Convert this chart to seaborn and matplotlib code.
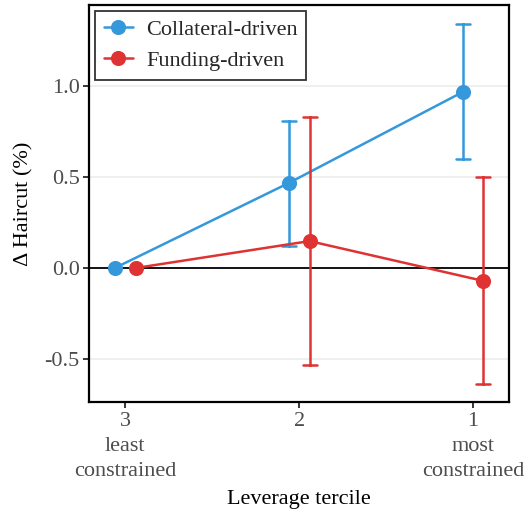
import numpy as np
import pandas as pd
import matplotlib
matplotlib.use("Agg")
import matplotlib.pyplot as plt
import seaborn as sns

# Leverage terciles (3 = least constrained, 1 = most constrained)
terciles = ["3", "2", "1"]
tick_labels = ["3\nleast\nconstrained", "2", "1\nmost\nconstrained"]

series = ["Collateral-driven", "Funding-driven"]
colors = ["#3498DB", "#DF3232"]

# Point estimates of the change in haircut (%)
collateral_est = [0.0, 0.467, 0.967]
funding_est = [0.0, 0.148, -0.071]

# Confidence bounds (tercile 3 is the reference group, no interval)
collateral_lo = [None, 0.121, 0.599]
collateral_hi = [None, 0.808, 1.340]
funding_lo = [None, -0.533, -0.637]
funding_hi = [None, 0.830, 0.500]

rows = []
for name, est, lo, hi in [
    (series[0], collateral_est, collateral_lo, collateral_hi),
    (series[1], funding_est, funding_lo, funding_hi),
]:
    for t, e, l, h in zip(terciles, est, lo, hi):
        vals = [e] if l is None else [l, e, h]
        for v in vals:
            rows.append({"tercile": t, "series": name, "value": v})
df = pd.DataFrame(rows)


def interval(v):
    v = np.asarray(v)
    if len(v) < 3:
        return (np.nan, np.nan)
    return (v.min(), v.max())


sns.set_theme(style="white")
plt.rcParams["font.family"] = ["Liberation Serif", "DejaVu Serif"]

fig, ax = plt.subplots(figsize=(5.28, 5.12), dpi=100)
fig.subplots_adjust(left=0.169, right=0.964, top=0.99, bottom=0.215)

ax.axhline(0, color="black", lw=1.3, zorder=1)
for y in [-0.5, 0.5, 1.0]:
    ax.axhline(y, color="#EBEBEB", lw=1.1, zorder=0)

sns.pointplot(
    data=df, x="tercile", y="value", hue="series",
    order=terciles, hue_order=series, palette=colors,
    estimator=np.median, errorbar=interval,
    dodge=0.12, capsize=0.08, markers="o",
    markersize=9.5, linewidth=1.8, err_kws={"linewidth": 1.8},
    ax=ax,
)

ax.set_xlim(-0.207, 2.207)
ax.set_ylim(-0.736, 1.445)
ax.set_yticks([-0.5, 0.0, 0.5, 1.0])
ax.set_yticklabels(["-0.5", "0.0", "0.5", "1.0"])
ax.set_xticks(range(len(terciles)))
ax.set_xticklabels(tick_labels, linespacing=1.45)

ax.tick_params(axis="both", labelsize=16, labelcolor="#4D4D4D",
               colors="black", length=4, width=1.1, direction="out",
               bottom=True, left=True)
ax.tick_params(axis="x", pad=3)
ax.tick_params(axis="y", pad=3)
for sp in ax.spines.values():
    sp.set_color("black")
    sp.set_linewidth(1.6)
    sp.set_visible(True)

ax.set_xlabel("Leverage tercile", fontsize=16, color="black", labelpad=6)
ax.set_ylabel("Δ Haircut (%)", fontsize=16, color="black", labelpad=8)

leg = ax.legend(loc="upper left", fontsize=16, frameon=True, fancybox=False,
                borderaxespad=0.25, handlelength=1.3, handletextpad=0.6,
                borderpad=0.4, labelspacing=0.45, title=None)
leg.get_frame().set_edgecolor("black")
leg.get_frame().set_linewidth(1.3)

fig.savefig("out.png", dpi=100)
